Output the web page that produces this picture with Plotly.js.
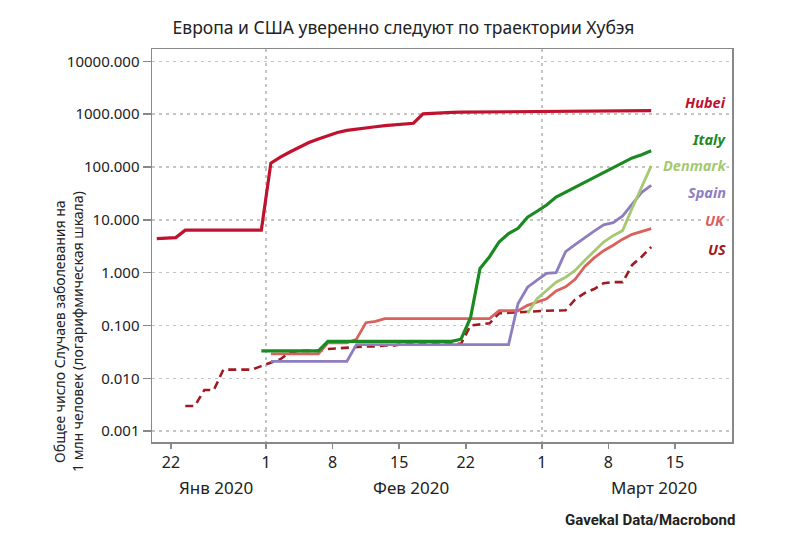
<!DOCTYPE html>
<html>
<head>
<meta charset="utf-8">
<script src="https://cdn.plot.ly/plotly-3.0.1.min.js"></script>
<style>
  html, body { margin: 0; padding: 0; background: #fff; }
  #chart { width: 807px; height: 543px; }
</style>
</head>
<body>
<div id="chart"></div>
<script>
// Daily observations (plotted at midday)
const dates = [
  '2020-01-20 12:00','2020-01-21 12:00','2020-01-22 12:00','2020-01-23 12:00','2020-01-24 12:00',
  '2020-01-25 12:00','2020-01-26 12:00','2020-01-27 12:00','2020-01-28 12:00','2020-01-29 12:00',
  '2020-01-30 12:00','2020-01-31 12:00','2020-02-01 12:00','2020-02-02 12:00','2020-02-03 12:00',
  '2020-02-04 12:00','2020-02-05 12:00','2020-02-06 12:00','2020-02-07 12:00','2020-02-08 12:00',
  '2020-02-09 12:00','2020-02-10 12:00','2020-02-11 12:00','2020-02-12 12:00','2020-02-13 12:00',
  '2020-02-14 12:00','2020-02-15 12:00','2020-02-16 12:00','2020-02-17 12:00','2020-02-18 12:00',
  '2020-02-19 12:00','2020-02-20 12:00','2020-02-21 12:00','2020-02-22 12:00','2020-02-23 12:00',
  '2020-02-24 12:00','2020-02-25 12:00','2020-02-26 12:00','2020-02-27 12:00','2020-02-28 12:00',
  '2020-02-29 12:00','2020-03-01 12:00','2020-03-02 12:00','2020-03-03 12:00','2020-03-04 12:00',
  '2020-03-05 12:00','2020-03-06 12:00','2020-03-07 12:00','2020-03-08 12:00','2020-03-09 12:00',
  '2020-03-10 12:00','2020-03-11 12:00','2020-03-12 12:00'
];

const hubei = [
  4.4, 4.5, 4.6, 6.35, 6.35, 6.35, 6.35, 6.35, 6.35, 6.35, 6.35, 6.35,
  118, 154, 192, 239, 290, 339, 385, 450, 491, 524, 552, 577, 605, 624, 652, 672,
  1009, 1040, 1070, 1080, 1090, 1095, 1100, 1105, 1110, 1115, 1120, 1125, 1130,
  1133, 1136, 1140, 1143, 1146, 1149, 1152, 1155, 1158, 1160, 1162, 1165
];

const italy = [
  null, null, null, null, null, null, null, null, null, null, null,
  0.033, 0.033, 0.033, 0.033, 0.033, 0.033, 0.033,
  0.05, 0.05, 0.05, 0.05, 0.05, 0.05, 0.05, 0.05, 0.05, 0.05, 0.05, 0.05, 0.05, 0.05,
  0.055, 0.14, 1.2, 2.0, 3.8, 5.5, 6.9, 11.2, 14.5,
  19, 27, 33.5, 40.5, 50, 63, 78, 98, 120, 148, 170, 203
];

const denmark = [
  null, null, null, null, null, null, null, null, null, null, null, null,
  null, null, null, null, null, null, null, null, null, null, null, null,
  null, null, null, null, null, null, null, null, null, null, null, null,
  null, null, null, 0.17, 0.32,
  0.46, 0.66, 0.82, 1.1, 1.7, 2.6, 3.8, 5.0, 6.3, 16.5, 42, 105
];

const spain = [
  null, null, null, null, null, null, null, null, null, null, null, null,
  0.021, 0.021, 0.021, 0.021, 0.021, 0.021, 0.021, 0.021, 0.021,
  0.0436, 0.0436, 0.0436, 0.0436, 0.0436, 0.0436, 0.0436, 0.0436, 0.0436,
  0.0436, 0.0436, 0.0436, 0.0436, 0.0436, 0.0436, 0.0436, 0.0436,
  0.26, 0.53, 0.72,
  0.97, 1.0, 2.5, 3.4, 4.6, 6.1, 8.0, 8.8, 11.8, 20, 33, 45
];

const uk = [
  null, null, null, null, null, null, null, null, null, null, null, null,
  0.029, 0.029, 0.029, 0.029, 0.029, 0.029,
  0.047, 0.047, 0.047, 0.055, 0.113, 0.12, 0.135,
  0.135, 0.135, 0.135, 0.135, 0.135, 0.135, 0.135, 0.135, 0.135, 0.135, 0.135,
  0.19, 0.19, 0.19, 0.24, 0.28,
  0.32, 0.45, 0.54, 0.75, 1.3, 1.9, 2.6, 3.3, 4.3, 5.3, 6.0, 6.8
];

const us = [
  null, null, null, 0.003, 0.003, 0.006, 0.006, 0.0146, 0.0146, 0.0146, 0.0146, 0.017,
  0.02, 0.023, 0.031, 0.033, 0.033, 0.033, 0.036, 0.037, 0.038, 0.04, 0.04, 0.04,
  0.042, 0.042, 0.045, 0.045, 0.045, 0.045, 0.045, 0.045, 0.045,
  0.1, 0.104, 0.11, 0.17, 0.175, 0.18, 0.183, 0.186,
  0.19, 0.192, 0.194, 0.31, 0.41, 0.49, 0.63, 0.66, 0.66, 1.4, 2.0, 3.06
];

const seriesNames = ['US', 'UK', 'Spain', 'Denmark', 'Italy', 'Hubei'];
const seriesData = [us, uk, spain, denmark, italy, hubei];
const seriesColors = ['#9e1b22', '#d9625c', '#8e7dbf', '#a5c872', '#1b8a22', '#c0122f'];
const seriesWidths = [2.6, 2.8, 2.8, 2.8, 3.2, 3.2];
const seriesDash = ['8px,5px', 'solid', 'solid', 'solid', 'solid', 'solid'];

const tickDates = ['2020-01-22','2020-02-01','2020-02-08','2020-02-15','2020-02-22','2020-03-01','2020-03-08','2020-03-15'];
const tickText = ['22','1','8','15','22','1','8','15'];
const monthStarts = ['2020-02-01','2020-03-01'];
const monthLabels = ['Янв 2020','Фев 2020','Март 2020'];
const monthLabelDates = ['2020-01-26 18:00','2020-02-16 07:00','2020-03-12 19:00'];
const yTicks = [0.001, 0.01, 0.1, 1, 10, 100, 1000, 10000];

const labelOrder = ['Hubei', 'Italy', 'Denmark', 'Spain', 'UK', 'US'];
const labelY = [0.864, 0.772, 0.706, 0.637, 0.565, 0.491];

const traces = seriesNames.map((n, i) => ({
  type: 'scatter', mode: 'lines', name: n,
  x: dates, y: seriesData[i],
  connectgaps: false,
  line: { color: seriesColors[i], width: seriesWidths[i], dash: seriesDash[i] },
  hoverinfo: 'skip'
}));
// invisible trace to activate secondary x axis for month gridlines
traces.unshift({ type: 'scatter', mode: 'lines', x: monthStarts, y: [1, 1], xaxis: 'x2', yaxis: 'y',
  line: { width: 0 }, showlegend: false, hoverinfo: 'skip' });

const annotations = labelOrder.map((n, i) => {
  const c = seriesColors[seriesNames.indexOf(n)];
  return {
    xref: 'paper', yref: 'paper', x: 0.992, y: labelY[i], xanchor: 'right', yanchor: 'middle',
    text: '<b><i>' + n + '</i></b>', showarrow: false, bgcolor: '#ffffff', borderpad: 0,
    font: { family: 'Noto Sans, sans-serif', size: 14.5, color: c }
  };
});
monthLabels.forEach((m, i) => annotations.push({
  xref: 'x', yref: 'paper', x: monthLabelDates[i], y: -0.115, xanchor: 'center', yanchor: 'middle',
  text: m, showarrow: false, font: { family: 'Noto Sans, sans-serif', size: 17, color: '#222' }
}));
annotations.push({
  xref: 'paper', yref: 'paper', x: -0.143, y: 0.28, xanchor: 'center', yanchor: 'middle',
  textangle: -90, showarrow: false,
  text: 'Общее число Случаев заболевания на<br>1 млн человек (логарифмическая шкала)',
  font: { family: 'Noto Sans, sans-serif', size: 14, color: '#222' }
});
annotations.push({
  xref: 'paper', yref: 'paper', x: 1.009, y: -0.199, xanchor: 'right', yanchor: 'middle',
  showarrow: false, text: '<b>Gavekal Data/Macrobond</b>',
  font: { family: 'Roboto, sans-serif', size: 15, color: '#222' }
});

const layout = {
  width: 807, height: 543,
  margin: { l: 152, r: 75, t: 49, b: 101 },
  paper_bgcolor: '#ffffff', plot_bgcolor: '#ffffff',
  showlegend: false,
  title: { text: 'Европа и США уверенно следуют по траектории Хубэя',
    x: 0.5, xanchor: 'center', y: 0.948, yanchor: 'middle',
    font: { family: 'Noto Sans, sans-serif', size: 17.5, color: '#222' } },
  xaxis: {
    type: 'date', range: ['2020-01-20', '2020-03-21'],
    tickmode: 'array', tickvals: tickDates, ticktext: tickText,
    ticks: 'outside', ticklen: 5, tickwidth: 1.5, tickcolor: '#888',
    showgrid: false, zeroline: false,
    showline: true, linecolor: '#888', linewidth: 1.5, mirror: true,
    tickfont: { family: 'Noto Sans, sans-serif', size: 16, color: '#222' }
  },
  xaxis2: {
    type: 'date', overlaying: 'x', matches: 'x', range: ['2020-01-20', '2020-03-21'],
    tickmode: 'array', tickvals: monthStarts, showticklabels: false, ticks: '',
    showgrid: true, gridcolor: '#c4c4c4', gridwidth: 1.5, griddash: '3px,4px',
    showline: false, zeroline: false
  },
  yaxis: {
    type: 'log', range: [-3.205, 4.232],
    tickmode: 'array', tickvals: yTicks, tickformat: '.3f',
    ticks: 'outside', ticklen: 8, tickwidth: 1.5, tickcolor: '#888',
    showgrid: true, gridcolor: '#c4c4c4', gridwidth: 1.5, griddash: '3px,4px',
    zeroline: false, showline: true, linecolor: '#888', linewidth: 1.5, mirror: true,
    tickfont: { family: 'Noto Sans, sans-serif', size: 15, color: '#222' }
  },
  annotations: annotations
};

Plotly.newPlot('chart', traces, layout, { displayModeBar: false, staticPlot: true });
</script>
</body>
</html>
